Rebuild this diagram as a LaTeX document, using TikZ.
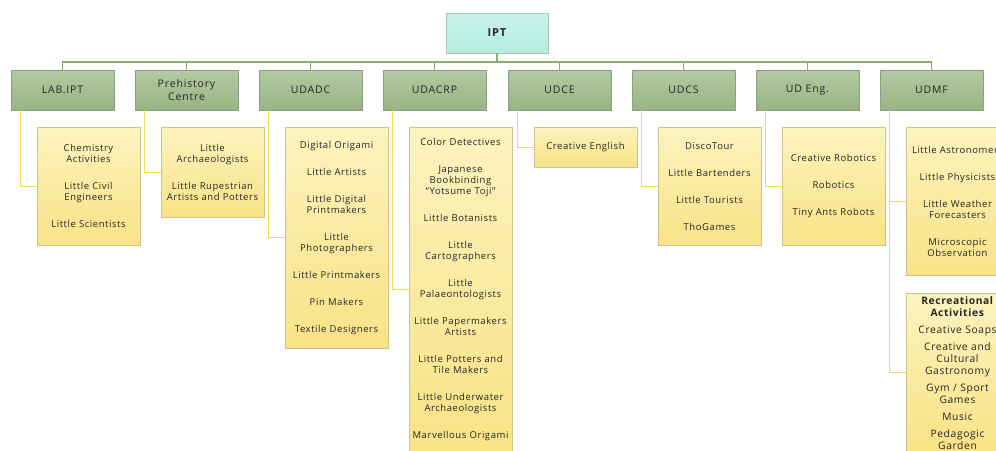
\documentclass[tikz,border=0pt]{standalone}
\usepackage{fontspec}
\setmainfont{Open Sans}
\newfontfamily\cardFont[LetterSpace=6]{Open Sans}
\newfontfamily\unitFont[LetterSpace=8]{Open Sans}
\usepackage{tikz}
\usetikzlibrary{positioning,calc}
\usepackage{xcolor}
\definecolor{inkGrey}{HTML}{262626}
\definecolor{rootTop}{HTML}{C9F3E8}
\definecolor{rootBottom}{HTML}{B4EDDD}
\definecolor{rootEdge}{HTML}{A9C4BC}
\definecolor{unitTop}{HTML}{B3C9A3}
\definecolor{unitBottom}{HTML}{97B482}
\definecolor{unitEdge}{HTML}{8E9E86}
\definecolor{actTop}{HTML}{FCF3BE}
\definecolor{actBottom}{HTML}{F9E386}
\definecolor{actEdge}{HTML}{CFC28C}
\definecolor{busGreen}{HTML}{86AE6C}
\definecolor{feedYellow}{HTML}{F4DA55}

\begin{document}
\begin{tikzpicture}[
    x=1pt, y=-1pt,
    rootBox/.style={draw=rootEdge, top color=rootTop, bottom color=rootBottom, font=\unitFont\fontsize{11}{12}\selectfont\bfseries, text=inkGrey, minimum width=102pt, minimum height=40pt},
    unitBox/.style={draw=unitEdge, top color=unitTop, bottom color=unitBottom, font=\unitFont\fontsize{10.5}{13}\selectfont, text=inkGrey, align=center, minimum width=103pt, minimum height=40pt, inner sep=2pt},
    actBox/.style={draw=actEdge, top color=actTop, bottom color=actBottom, font=\cardFont\fontsize{9.5}{11}\selectfont, text=inkGrey, align=center, text width=101pt, inner xsep=1pt, inner ysep=3pt, anchor=north},
    busLine/.style={draw=busGreen, line width=1.5pt},
    feedLine/.style={draw=feedYellow, line width=1.3pt}
]
    \useasboundingbox (0,0) rectangle (996,450);
    \clip (0,0) rectangle (996,450);

    \node[rootBox] (root) at (497, 33) {IPT};

    % units
    \node[unitBox] (lab)     at (62.5, 90)  {LAB.IPT};
    \node[unitBox] (prehist) at (186.5, 90) {Prehistory\\Centre};
    \node[unitBox] (udadc)   at (310.5, 90) {UDADC};
    \node[unitBox] (udacrp)  at (434.5, 90) {UDACRP};
    \node[unitBox] (udce)    at (559.5, 90) {UDCE};
    \node[unitBox] (udcs)    at (683.5, 90) {UDCS};
    \node[unitBox] (udeng)   at (807.5, 90) {UD Eng.};
    \node[unitBox] (udmf)    at (931.5, 90) {UDMF};

    \coordinate (bus) at (497, 62);
    \draw[busLine] (root.south) -- (bus);
    \foreach \u in {lab,prehist,udadc,udacrp,udce,udcs,udeng,udmf}
        \draw[busLine] (bus) -| (\u.north);

    % activities
    \node[actBox, minimum height=118pt] (labActs) at (88.5, 127) {
        Chemistry\\Activities\\[16pt]
        Little Civil\\Engineers\\[16pt]
        Little Scientists
    };
    \node[actBox, minimum height=90pt] (prehistActs) at (212.5, 127) {
        Little\\Archaeologists\\[16pt]
        Little Rupestrian\\Artists and Potters
    };
    \node[actBox, minimum height=221pt] (udadcActs) at (336.5, 127) {
        Digital Origami\\[16pt]
        Little Artists\\[16pt]
        Little Digital\\Printmakers\\[16pt]
        Little\\Photographers\\[16pt]
        Little Printmakers\\[16pt]
        Pin Makers\\[16pt]
        Textile Designers
    };
    \node[actBox, minimum height=324pt] (udacrpActs) at (460.5, 127) {
        Color Detectives\\[16pt]
        Japanese\\Bookbinding\\“Yotsume Toji”\\[16pt]
        Little Botanists\\[16pt]
        Little\\Cartographers\\[16pt]
        Little\\Palaeontologists\\[16pt]
        Little Papermakers\\Artists\\[16pt]
        Little Potters and\\Tile Makers\\[16pt]
        Little Underwater\\Archaeologists\\[16pt]
        Marvellous Origami
    };
    \node[actBox, minimum height=40pt] (udceActs) at (585.5, 127) {Creative English};
    \node[actBox, minimum height=118pt] (udcsActs) at (709.5, 127) {
        DiscoTour\\[16pt]
        Little Bartenders\\[16pt]
        Little Tourists\\[16pt]
        ThoGames
    };
    \node[actBox, minimum height=118pt] (udengActs) at (833.5, 127) {
        Creative Robotics\\[16pt]
        Robotics\\[16pt]
        Tiny Ants Robots
    };
    \node[actBox, minimum height=148pt] (udmfActs) at (957.5, 127) {
        Little Astronomers\\[16pt]
        Little Physicists\\[16pt]
        Little Weather\\Forecasters\\[16pt]
        Microscopic\\Observation
    };
    \node[actBox, minimum height=158pt, font=\cardFont\fontsize{10.3}{12}\selectfont] (udmfRec) at (957.5, 293) {
        \textbf{Recreational}\\\textbf{Activities}\\[5pt]
        Creative Soaps\\[5pt]
        Creative and\\Cultural\\Gastronomy\\[5pt]
        Gym / Sport\\Games\\[5pt]
        Music\\[5pt]
        Pedagogic\\Garden
    };

    \foreach \u/\a in {lab/labActs,prehist/prehistActs,udadc/udadcActs,udacrp/udacrpActs,udce/udceActs,udcs/udcsActs,udeng/udengActs,udmf/udmfActs}
        \draw[feedLine] ([xshift=10pt]\u.south west) |- (\a.west);
    \draw[feedLine] ([xshift=10pt]udmf.south west) |- (udmfRec.west);
\end{tikzpicture}
\end{document}
